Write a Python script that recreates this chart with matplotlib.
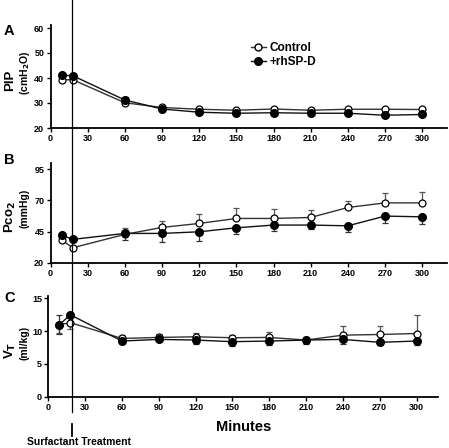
import numpy as np
import matplotlib
matplotlib.use("Agg")
import matplotlib.pyplot as plt
from matplotlib.lines import Line2D

plt.rcParams['font.family'] = ['Liberation Sans', 'DejaVu Sans']
plt.rcParams['font.weight'] = 'bold'

# time points (minutes)
minutes = [9, 18, 60, 90, 120, 150, 180, 210, 240, 270, 300]
treatment_time = 17.5

# Panel A: PIP (cmH2O)
pip_control = [39.3, 39.3, 30.1, 28.2, 27.5, 27.1, 27.6, 27.1, 27.5, 27.5, 27.4]
pip_control_err = [0.5, 0.5, 1.0, 0.4, 0.3, 0.3, 0.3, 0.3, 0.3, 0.3, 0.3]
pip_rhspd = [41.1, 40.9, 31.2, 27.6, 26.3, 25.9, 26.1, 25.9, 25.9, 25.1, 25.4]
pip_rhspd_err = [0.5, 0.5, 1.2, 0.3, 0.3, 0.3, 0.3, 0.3, 0.3, 0.3, 0.3]

# Panel B: Pco2 (mmHg)
pco2_control = [38.2, 32.0, 42.7, 48.3, 51.5, 55.5, 55.5, 56.3, 64.3, 68.0, 68.0]
pco2_control_err = [1.5, 1.5, 5.5, 5.3, 7.2, 8.0, 7.2, 5.9, 5.3, 8.3, 8.9]
pco2_rhspd = [42.2, 38.7, 43.5, 43.5, 44.8, 48.0, 50.2, 50.2, 49.6, 57.4, 56.8]
pco2_rhspd_err = [1.5, 1.5, 5.3, 6.7, 7.2, 5.0, 4.6, 3.5, 5.3, 5.9, 5.8]

# Panel C: VT (ml/kg)
vt_control = [11.0, 11.3, 8.9, 9.05, 9.15, 9.0, 9.05, 8.65, 9.4, 9.5, 9.65]
vt_control_err = [1.3, 1.0, 0.5, 0.55, 0.55, 0.45, 0.85, 0.3, 1.4, 1.3, 2.85]
vt_rhspd = [11.0, 12.5, 8.5, 8.75, 8.65, 8.4, 8.5, 8.65, 8.75, 8.3, 8.5]
vt_rhspd_err = [1.4, 0.35, 0.3, 0.3, 0.55, 0.6, 0.6, 0.65, 0.75, 0.4, 0.6]

W, H = 449, 448
fig = plt.figure(figsize=(W / 100, H / 100), dpi=100)


def add_ax(left, right, top, bottom):
    return fig.add_axes([left / W, 1 - bottom / H, (right - left) / W, (bottom - top) / H])


axA = add_ax(50.5, 447, 25.5, 128)
axB = add_ax(50.5, 447, 163, 262.7)
axC = add_ax(48.3, 438, 296.5, 396.7)

panels = [
    (axA, pip_control, pip_control_err, pip_rhspd, pip_rhspd_err, (20, 61), [20, 30, 40, 50, 60],
     "PIP", r"(cmH$_\mathbf{2}$O)", "A", 320, 31),
    (axB, pco2_control, pco2_control_err, pco2_rhspd, pco2_rhspd_err, (20, 100), [20, 45, 70, 95],
     r"Pco$_\mathbf{2}$", "(mmHg)", "B", 320, 160),
    (axC, vt_control, vt_control_err, vt_rhspd, vt_rhspd_err, (0, 15.3), [0, 5, 10, 15],
     r"V$_\mathbf{T}$", "(ml/kg)", "C", 317.5, 298),
]

for ax, ctl, ctl_err, trt, trt_err, ylim, yticks, lab1, lab2, letter, xmax, lety in panels:
    # one-sided error bars as in the original (control up, rhSP-D down) for B and C
    nil = [0] * len(ctl)
    if letter == "A":
        ctl_yerr = [ctl_err, ctl_err]
        trt_yerr = [trt_err, trt_err]
    elif letter == "B":
        ctl_yerr = [nil, ctl_err]
        trt_yerr = [trt_err, nil]
    else:
        ctl_yerr = [[ctl_err[0], ctl_err[1]] + nil[2:], [0, 0] + ctl_err[2:]]
        trt_yerr = [[trt_err[0], 0] + trt_err[2:], [trt_err[0], trt_err[1]] + nil[2:]]
    ax.errorbar(minutes, ctl, yerr=ctl_yerr, color='#333333', ecolor='#555555', lw=1.0,
                elinewidth=0.9, capsize=2.5, capthick=0.9, marker='o', ms=5,
                mfc='white', mec='black', mew=0.9, zorder=3)
    ax.errorbar(minutes, trt, yerr=trt_yerr, color='#111111', ecolor='#333333', lw=1.0,
                elinewidth=0.9, capsize=2.5, capthick=0.9, marker='o', ms=5.5,
                mfc='black', mec='black', zorder=4)
    ax.set_xlim(0, xmax)
    ax.set_ylim(*ylim)
    ax.set_yticks(yticks)
    ax.set_xticks([0, 30, 60, 90, 120, 150, 180, 210, 240, 270, 300])
    for s in ['top', 'right']:
        ax.spines[s].set_visible(False)
    for s in ['left', 'bottom']:
        ax.spines[s].set_linewidth(1.3)
    ax.tick_params(direction='out', length=3, width=1.0, labelsize=6.5, pad=1.5)
    for t in ax.get_xticklabels() + ax.get_yticklabels():
        t.set_fontweight('bold')
    pos = ax.get_position()
    yc = pos.y0 + pos.height / 2
    fig.text(10 / W, yc - 4 / H, lab1, rotation=90, fontsize=9.5, fontweight='bold',
             ha='center', va='center')
    fig.text(24.5 / W, yc + 4 / H, lab2, rotation=90, fontsize=7.5, fontweight='bold',
             ha='center', va='center')
    fig.text(4 / W, 1 - lety / H, letter, fontsize=10.5, fontweight='bold', va='center')

handles = [
    Line2D([], [], color='#333333', lw=1.0, marker='o', ms=5, mfc='white', mec='black'),
    Line2D([], [], color='#111111', lw=1.0, marker='o', ms=5.5, mfc='black', mec='black'),
]
axA.legend(handles, ['Control', '+rhSP-D'], loc='upper left', bbox_to_anchor=(0.49, 0.9),
           frameon=False, handlelength=1.3, handletextpad=0.3, labelspacing=0.2, borderpad=0,
           prop={'weight': 'bold', 'size': 8.5})

axC.set_xlabel("Minutes", fontsize=10.5, fontweight='bold', labelpad=6)

# surfactant treatment marker line
fig.canvas.draw()
xd = axA.transData.transform((treatment_time, 0))[0]
xf = fig.transFigure.inverted().transform((xd, 0))[0]
fig.add_artist(Line2D([xf, xf], [1.0, 1 - 411.5 / H], color='black', lw=0.9))
fig.add_artist(Line2D([xf, xf], [1 - 424 / H, 1 - 436 / H], color='black', lw=1.3))
fig.text(27 / W, 1 - 442 / H, "Surfactant Treatment", fontsize=7.5, fontweight='bold',
         va='center', ha='left')

fig.savefig("out.png", dpi=100)
